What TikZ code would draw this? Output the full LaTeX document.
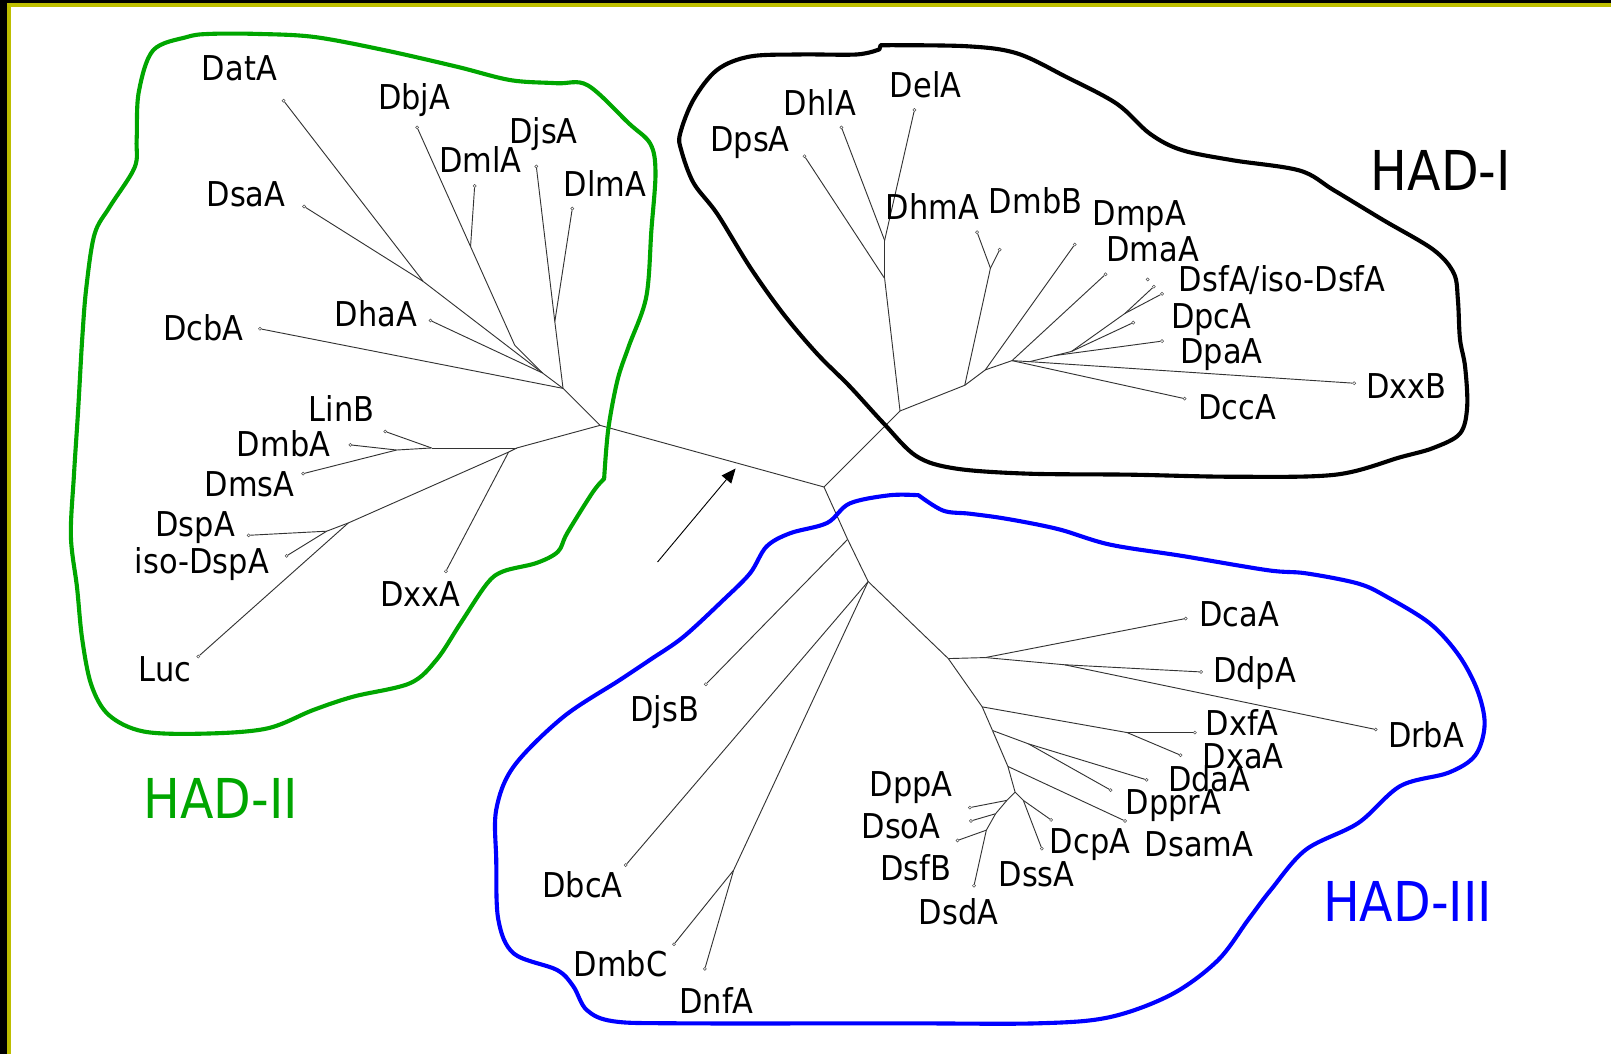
\documentclass[tikz,border=0pt]{standalone}
\usepackage{fontspec}
\setmainfont{DejaVu Sans}[FakeStretch=0.89]
\usetikzlibrary{arrows.meta}

\definecolor{framegold}{RGB}{190,190,0}
\definecolor{hadgreen}{RGB}{0,166,0}
\definecolor{hadblue}{RGB}{0,0,255}

\begin{document}
\begin{tikzpicture}[x=1pt,y=-1pt,>=Latex,
  branch/.style={line width=0.9pt,black!80},
  leaf/.style={circle,draw=black!70,fill=white,line width=0.5pt,inner sep=0pt,minimum size=3pt},
  lbl/.style={anchor=base,inner sep=0pt,font=\fontsize{33.3}{40}\selectfont},
  grp/.style={anchor=base,inner sep=0pt,font=\fontsize{53.5}{60}\selectfont},
  rim/.style={line width=4pt,line join=round,line cap=round}]
  \useasboundingbox (0,0) rectangle (1568,1026);

  % slide frame, top and left
  \fill[black] (0,0) rectangle (1568,2.9);
  \fill[black] (0,0) rectangle (6.8,1026);
  \fill[framegold] (6.8,2.9) rectangle (1568,6.8);
  \fill[framegold] (6.8,2.9) rectangle (10.7,1026);

  % branch points
  \coordinate (hub) at (802,474);
  % HAD-II
  \coordinate (r2) at (584,414);
  \coordinate (a2) at (548,378);
  \coordinate (h2) at (528,363);
  \coordinate (j1) at (412,274);
  \coordinate (j2) at (501,336);
  \coordinate (jml) at (458,240);
  \coordinate (j3) at (540,313);
  \coordinate (b2) at (503,436);
  \coordinate (c2) at (420,436);
  \coordinate (g2) at (386,438);
  \coordinate (d2) at (495,440);
  \coordinate (e2) at (339,509);
  \coordinate (f2) at (318,517);
  % HAD-I
  \coordinate (r1) at (876,400);
  \coordinate (k1) at (861,271);
  \coordinate (l1) at (861,234);
  \coordinate (m1) at (939,375);
  \coordinate (n1) at (964,261);
  \coordinate (o1) at (959,360);
  \coordinate (p1) at (985,351);
  \coordinate (q1) at (1002,352);
  \coordinate (s1) at (1027,346);
  \coordinate (t1) at (1043,342);
  \coordinate (u1) at (1095,305);
  % HAD-III
  \coordinate (v3) at (825,525);
  \coordinate (w3) at (845,566);
  \coordinate (x3) at (714,847);
  \coordinate (y3) at (923,641);
  \coordinate (z1) at (959,640);
  \coordinate (z2) at (1036,647);
  \coordinate (y4) at (956,688);
  \coordinate (xf) at (1097,713);
  \coordinate (y5) at (966,711);
  \coordinate (yd) at (1001,724);
  \coordinate (y6) at (981,746);
  \coordinate (y7) at (988,771);
  \coordinate (z5) at (996,779);
  \coordinate (aa) at (980,779);
  \coordinate (ab) at (969,792);
  \coordinate (ac) at (960,808);

  % leaves
  \foreach \n/\x/\y in {datA/276/98, dbjA/406/124, djsA/522/162, dmlA/462/181,
      dlmA/557/203, dsaA/296/201, dhaA/419/312, dcbA/253/320, linB/375/420,
      dmbA/341/433, dmsA/295/461, dspA/242/521, isoDspA/279/541, dxxA/434/556,
      luc/193/639,
      dpsA/783/152, dhlA/819/124, delA/890/107, dhmA/951/226, dmbB/973/243,
      dmpA/1046/238, dmaA/1076/267, dsfA/1123/279, isoDsfA/1131/286,
      sfx/1117/272, dpcA/1103/314, dpaA/1131/332, dxxB/1318/373, dccA/1153/388,
      djsB/687/666, dbcA/609/842, dmbC/656/919, dnfA/686/943, dcaA/1154/602,
      ddpA/1169/654, drbA/1339/710, dxfA/1163/713, dxaA/1149/735,
      ddaA/1116/759, dpprA/1081/769, dsamA/1095/799, dcpA/1023/798,
      dssA/1014/826, dppA/944/786, dsoA/945/799, dsfB/932/818, dsdA/948/862}
    \node[leaf] (\n) at (\x,\y) {};

  % tree
  \foreach \a/\b in {hub/r2, r2/a2, a2/dcbA, a2/h2, a2/j3, h2/dhaA, h2/j1,
      h2/j2, j1/datA, j1/dsaA, j2/jml, jml/dbjA, jml/dmlA, j3/djsA, j3/dlmA,
      r2/b2, b2/c2, c2/linB, c2/g2, g2/dmbA, g2/dmsA, b2/d2, d2/dxxA, d2/e2,
      e2/luc, e2/f2, f2/dspA, f2/isoDspA,
      hub/r1, r1/k1, k1/dpsA, k1/l1, l1/dhlA, l1/delA, r1/m1, m1/n1, n1/dhmA,
      n1/dmbB, m1/o1, o1/dmpA, o1/p1, p1/dmaA, p1/dccA, p1/q1, q1/dxxB,
      q1/s1, s1/dpaA, s1/t1, t1/dpcA, t1/u1, u1/dsfA, u1/isoDsfA,
      hub/v3, v3/djsB, v3/w3, w3/dbcA, w3/x3, x3/dmbC, x3/dnfA, w3/y3,
      y3/z1, z1/dcaA, z1/z2, z2/ddpA, z2/drbA, y3/y4, y4/xf, xf/dxfA,
      xf/dxaA, y4/y5, y5/yd, yd/ddaA, yd/dpprA, y5/y6, y6/dsamA, y6/y7,
      y7/z5, z5/dcpA, z5/dssA, y7/aa, aa/dppA, aa/ab, ab/dsoA, ab/ac,
      ac/dsfB, ac/dsdA}
    \draw[branch] (\a) -- (\b);

  % arrow pointing at the HAD-II stem
  \coordinate (arrS) at (640,547);
  \coordinate (arrE) at (716,456);
  \draw[line width=0.9pt,-{Triangle[length=14pt,width=12pt]}] (arrS) -- (arrE);

  % group outlines
  \draw[rim,hadgreen] plot[smooth,tension=0.55] coordinates {(588,466) (577,479)
    (552,519) (543,537) (522,548) (490,556) (474,568) (448,607) (425,642)
    (399,665) (344,678) (305,691) (260,709) (200,714) (140,712) (106,696)
    (89,667) (80,622) (75,572) (69,522) (72,462) (76,400) (80,330) (84,280)
    (92,228) (107,201) (131,163) (133,136) (135,90) (149,49) (182,36) (204,33)
    (250,33) (306,36) (375,49) (445,65) (497,78) (542,81) (572,83) (612,120)
    (633,140) (638,168) (634,224) (629,289) (612,337) (601,370) (592,418)
    (588,466)};
  \draw[rim,black] plot[smooth,tension=0.55] coordinates {(857,44) (941,45)
    (990,52) (1038,75) (1087,101) (1119,130) (1150,146) (1200,156) (1265,166)
    (1298,185) (1346,214) (1395,243) (1415,266) (1419,292) (1421,330)
    (1426,357) (1428,396) (1421,422) (1395,436) (1363,445) (1300,462)
    (1200,464) (1100,462) (1000,461) (930,456) (892,444) (860,412) (827,376)
    (795,344) (762,305) (730,260) (698,208) (675,178) (663,146) (662,130)
    (675,97) (698,68) (730,55) (779,53) (834,53) (856,48)} -- cycle;
  \draw[rim,hadblue] plot[smooth,tension=0.55] coordinates {(894,482) (918,497)
    (944,500) (980,505) (1030,515) (1080,530) (1150,541) (1234,555) (1271,558)
    (1322,568) (1350,581) (1392,607) (1420,638) (1438,672) (1445,705)
    (1436,735) (1410,752) (1363,765) (1322,801) (1271,827) (1237,866)
    (1215,895) (1185,935) (1140,968) (1080,990) (1010,996) (876,996)
    (662,996) (597,994) (571,983) (558,960) (542,944) (500,928) (485,895)
    (483,837) (483,788) (500,746) (548,698) (603,662) (633,642) (665,620)
    (704,584) (730,558) (746,532) (769,519) (805,509) (827,490) (866,482)
    (894,482)};

  % HAD-II labels
  \node[lbl] (t-datA) at (233,78) {DatA};
  \node[lbl] (t-dbjA) at (403,107) {DbjA};
  \node[lbl] (t-djsA) at (529,139.5) {DjsA};
  \node[lbl] (t-dmlA) at (467.5,168) {DmlA};
  \node[lbl] (t-dlmA) at (589,191.5) {DlmA};
  \node[lbl] (t-dsaA) at (239.5,200.5) {DsaA};
  \node[lbl] (t-dhaA) at (366,318) {DhaA};
  \node[lbl] (t-dcbA) at (198,331) {DcbA};
  \node[lbl] (t-linB) at (332.5,410.5) {LinB};
  \node[lbl] (t-dmbA) at (276,444.5) {DmbA};
  \node[lbl] (t-dmsA) at (243,483) {DmsA};
  \node[lbl] (t-dspA) at (190,522.5) {DspA};
  \node[lbl] (t-isoDspA) at (196.5,558) {iso-DspA};
  \node[lbl] (t-dxxA) at (409,590.5) {DxxA};
  \node[lbl] (t-luc) at (160.5,663.5) {Luc};
  \node[grp,hadgreen] (had2) at (215,797) {HAD-II};

  % HAD-I labels
  \node[lbl] (t-dpsA) at (730,147) {DpsA};
  \node[lbl] (t-dhlA) at (798,112) {DhlA};
  \node[lbl] (t-delA) at (901,95) {DelA};
  \node[lbl] (t-dhmA) at (907.5,214) {DhmA};
  \node[lbl] (t-dmbB) at (1008,207.5) {DmbB};
  \node[lbl] (t-dmpA) at (1109,219) {DmpA};
  \node[lbl] (t-dmaA) at (1122,254.5) {DmaA};
  \node[lbl] (t-dsfA) at (1248,284) {DsfA/iso-DsfA};
  \node[lbl] (t-dpcA) at (1179,319.5) {DpcA};
  \node[lbl] (t-dpaA) at (1189,353.5) {DpaA};
  \node[lbl] (t-dxxB) at (1369,387.5) {DxxB};
  \node[lbl] (t-dccA) at (1204,408.5) {DccA};
  \node[grp] (had1) at (1402.5,185) {HAD-I};

  % HAD-III labels
  \node[lbl] (t-djsB) at (647,702.5) {DjsB};
  \node[lbl] (t-dbcA) at (567,874) {DbcA};
  \node[lbl] (t-dmbC) at (604,950.5) {DmbC};
  \node[lbl] (t-dnfA) at (697.5,986) {DnfA};
  \node[lbl] (t-dcaA) at (1206,610) {DcaA};
  \node[lbl] (t-ddpA) at (1221,664.5) {DdpA};
  \node[lbl] (t-drbA) at (1388,728) {DrbA};
  \node[lbl] (t-dxfA) at (1209,715.5) {DxfA};
  \node[lbl] (t-dxaA) at (1210,748) {DxaA};
  \node[lbl] (t-ddaA) at (1177,770.5) {DdaA};
  \node[lbl] (t-dpprA) at (1142,793) {DpprA};
  \node[lbl] (t-dsamA) at (1167,834) {DsamA};
  \node[lbl] (t-dcpA) at (1061,831) {DcpA};
  \node[lbl] (t-dssA) at (1009,863) {DssA};
  \node[lbl] (t-dppA) at (887,775.5) {DppA};
  \node[lbl] (t-dsoA) at (877,816) {DsoA};
  \node[lbl] (t-dsfB) at (891.5,856.5) {DsfB};
  \node[lbl] (t-dsdA) at (933,900) {DsdA};
  \node[grp,hadblue] (had3) at (1370,897) {HAD-III};
\end{tikzpicture}
\end{document}
